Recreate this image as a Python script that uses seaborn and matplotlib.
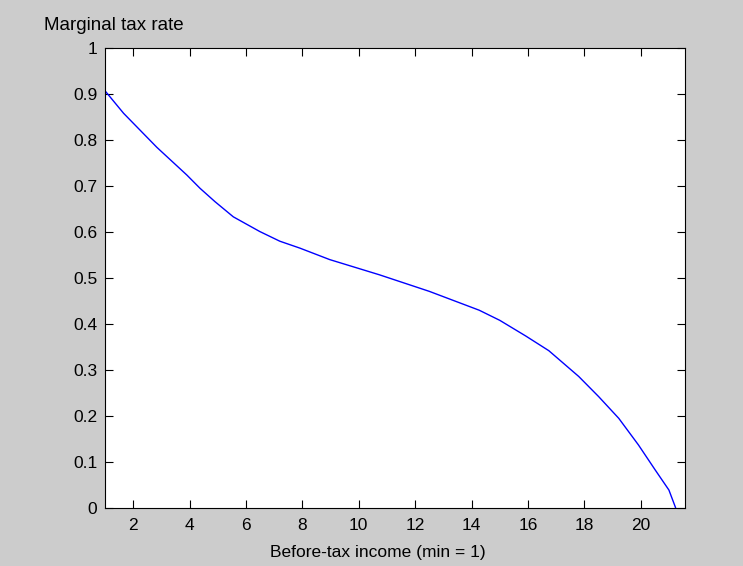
import matplotlib
matplotlib.use("Agg")
import matplotlib.pyplot as plt
import seaborn as sns
import pandas as pd

income = [1.0, 1.66, 2.84, 3.9, 4.37, 4.9, 5.55, 6.49, 7.2, 7.91, 8.97, 10.73,
          12.5, 14.27, 15.0, 15.92, 16.74, 17.8, 18.51, 19.22, 19.92, 20.51, 21.0, 21.24]
rate = [0.907, 0.858, 0.784, 0.724, 0.695, 0.666, 0.633, 0.601, 0.580, 0.565, 0.540, 0.507,
        0.471, 0.430, 0.408, 0.374, 0.342, 0.286, 0.242, 0.195, 0.137, 0.083, 0.039, 0.0]
xticks = [2, 4, 6, 8, 10, 12, 14, 16, 18, 20]
yticks = [0, 0.1, 0.2, 0.3, 0.4, 0.5, 0.6, 0.7, 0.8, 0.9, 1]
ytick_labels = ["0", "0.1", "0.2", "0.3", "0.4", "0.5", "0.6", "0.7", "0.8", "0.9", "1"]

sns.set_style("white")
plt.rcParams["font.family"] = ["Liberation Sans", "DejaVu Sans"]
plt.rcParams["text.color"] = "black"
plt.rcParams["xtick.color"] = "black"
plt.rcParams["ytick.color"] = "black"
plt.rcParams["axes.labelcolor"] = "black"

df = pd.DataFrame({"income": income, "rate": rate})

fig = plt.figure(figsize=(7.43, 5.66), dpi=100)
fig.patch.set_facecolor("#cccccc")
ax = fig.add_axes([105 / 743, 58 / 566, 580 / 743, 460 / 566])
ax.set_facecolor("white")

sns.lineplot(data=df, x="income", y="rate", ax=ax, sort=False, color="#0000ff",
             linewidth=1.0, estimator=None)

ax.set_xlim(1, 21.57)
ax.set_ylim(0, 1)
ax.set_xticks(xticks)
ax.set_xticklabels([str(t) for t in xticks], fontsize=12.5)
ax.set_yticks(yticks)
ax.set_yticklabels(ytick_labels, fontsize=12.5)
ax.tick_params(direction="in", length=6, width=0.8, color="black", labelcolor="black",
               top=True, right=True, bottom=True, left=True)
ax.tick_params(axis="x", pad=7)
ax.tick_params(axis="y", pad=5.5)
for s in ax.spines.values():
    s.set_visible(True)
    s.set_color("black")
    s.set_linewidth(0.8)

ax.set_xlabel("")
ax.set_ylabel("")
fig.text(378 / 743, 1 - 552 / 566, "Before-tax income (min = 1)", ha="center", va="center",
         fontsize=12.5, color="black")
fig.text(114 / 743, 1 - 25 / 566, "Marginal tax rate", ha="center", va="center",
         fontsize=13.5, color="black")

fig.savefig("out.png", dpi=100, facecolor=fig.get_facecolor())
